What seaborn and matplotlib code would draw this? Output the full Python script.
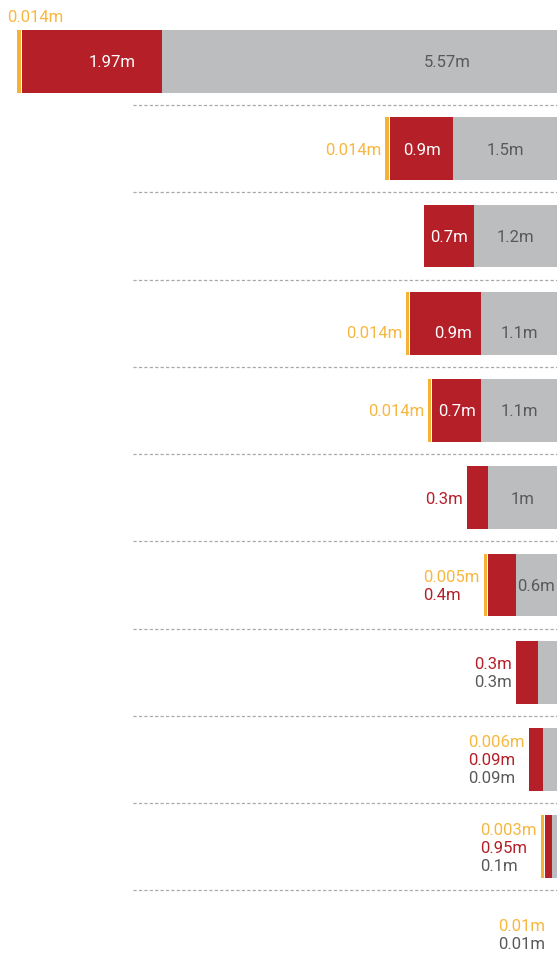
import matplotlib
matplotlib.use("Agg")
import matplotlib.pyplot as plt
import matplotlib.transforms as mtrans
import seaborn as sns
import pandas as pd

# ---------------- data ----------------
rows = [f"Row {i}" for i in range(1, 12)]
gray_vals = [5.57, 1.46, 1.17, 1.07, 1.07, 0.97, 0.58, 0.27, 0.20, 0.07, 0.0]
red_vals = [1.98, 0.90, 0.70, 1.00, 0.69, 0.30, 0.40, 0.31, 0.20, 0.10, 0.0]
orange_vals = [0.05, 0.047, 0.0, 0.047, 0.042, 0.0, 0.042, 0.0, 0.0, 0.042, 0.0]

gray_labels = ["5.57m", "1.5m", "1.2m", "1.1m", "1.1m", "1m", "0.6m", "0.3m", "0.09m", "0.1m", "0.01m"]
red_labels = ["1.97m", "0.9m", "0.7m", "0.9m", "0.7m", "0.3m", "0.4m", "0.3m", "0.09m", "0.95m", ""]
orange_labels = ["0.014m", "0.014m", "", "0.014m", "0.014m", "", "0.005m", "", "0.006m", "0.003m", "0.01m"]

# ---------------- style ----------------
RED = "#B41F28"
GRAY = "#BCBDBF"
ORANGE = "#F5B335"
ORANGE_TXT = "#F7B740"
GRAY_TXT = "#58595B"
FONT = "Roboto"
FS = 12
WEIGHT = "normal"
GAP = 0.0141  # white gap between orange and red

sns.set_theme(style="white")
plt.rcParams["font.family"] = [FONT, "DejaVu Sans"]
plt.rcParams["lines.scale_dashes"] = False

df = pd.DataFrame({
    "row": rows,
    "gray": gray_vals,
    "red": red_vals,
    "orange": orange_vals,
})
df["gap"] = [GAP if o > 0 else 0.0 for o in orange_vals]
df["c_red"] = df["gray"] + df["red"]
df["c_white"] = df["c_red"] + df["gap"]
df["c_orange"] = df["c_white"] + df["orange"]

fig = plt.figure(figsize=(5.57, 9.73), dpi=100)
ax = fig.add_axes([0, 0, 1, 1])

for col, c in [("c_orange", ORANGE), ("c_white", "white"), ("c_red", RED), ("gray", GRAY)]:
    sns.barplot(data=df, x=col, y="row", order=rows, orient="h", color=c,
                saturation=1, width=0.72, errorbar=None, linewidth=0, ax=ax)

XMAX = 7.856
ax.set_xlim(XMAX, 0)
ax.set_ylim(10.447, -0.705)
ax.axis("off")

# dashed separators
for k in range(len(rows) - 1):
    ax.axhline(k + 0.5, xmin=0.239, xmax=1.0, color="#A7A9AC", lw=0.9,
               linestyle=(0, (2.3, 1.6)), zorder=0)

renderer = fig.canvas.get_renderer()
ID = mtrans.IdentityTransform()
fs_px = FS * 100 / 72.0
cap = 0.711 * fs_px
LINE = 18.0

nudge = {0: {"red": 20, "gray": 88, "dy": 0}, 3: {"red": 7, "gray": 0, "dy": -9}}


def dx(v):
    return ax.transData.transform((v, 0))[0]


def text_px(x, y, s, color, ha="left"):
    return ax.text(x, y, s, transform=ID, fontsize=FS, color=color, ha=ha,
                   va="baseline", family=[FONT, "DejaVu Sans"], fontweight=WEIGHT)


def width_of(s):
    t = text_px(0, 0, s, "white")
    w = t.get_window_extent(renderer).width
    t.remove()
    return w


for k, r in df.iterrows():
    yc = ax.transData.transform((0, k))[1]
    nd = nudge.get(k, {"red": 0, "gray": 0, "dy": 0})
    yc += nd["dy"]
    outside = []
    if orange_labels[k]:
        outside.append((orange_labels[k], ORANGE_TXT))
    if red_labels[k]:
        seg = abs(dx(r["c_red"]) - dx(r["gray"]))
        w = width_of(red_labels[k])
        if seg >= w + 2:
            xc = (dx(r["c_red"]) + dx(r["gray"])) / 2 + nd["red"]
            text_px(xc, yc - cap / 2, red_labels[k], "white", ha="center")
        else:
            outside.append((red_labels[k], RED))
    if gray_labels[k]:
        seg = abs(dx(r["gray"]) - dx(0))
        w = width_of(gray_labels[k])
        if seg >= w + 2:
            xc = (dx(r["gray"]) + dx(0)) / 2 + nd["gray"]
            text_px(xc, yc - cap / 2, gray_labels[k], GRAY_TXT, ha="center")
        else:
            outside.append((gray_labels[k], GRAY_TXT))
    if not outside:
        continue
    stack_left = dx(r["c_orange"])
    has_bar = r["c_orange"] > 0
    right = stack_left - (4 if has_bar else 12)
    maxw = max(width_of(s) for s, _ in outside)
    left = right - maxw
    if left < 0:
        top = ax.transData.transform((0, k - 0.36))[1]
        for i, (s, c) in enumerate(outside):
            text_px(stack_left - 10, top + 8 + i * LINE, s, c)
        continue
    n = len(outside)
    for i, (s, c) in enumerate(outside):
        yl = yc + ((n - 1) / 2 - i) * LINE
        text_px(left, yl - cap / 2, s, c)

fig.savefig("out.png", dpi=100, facecolor="white")
